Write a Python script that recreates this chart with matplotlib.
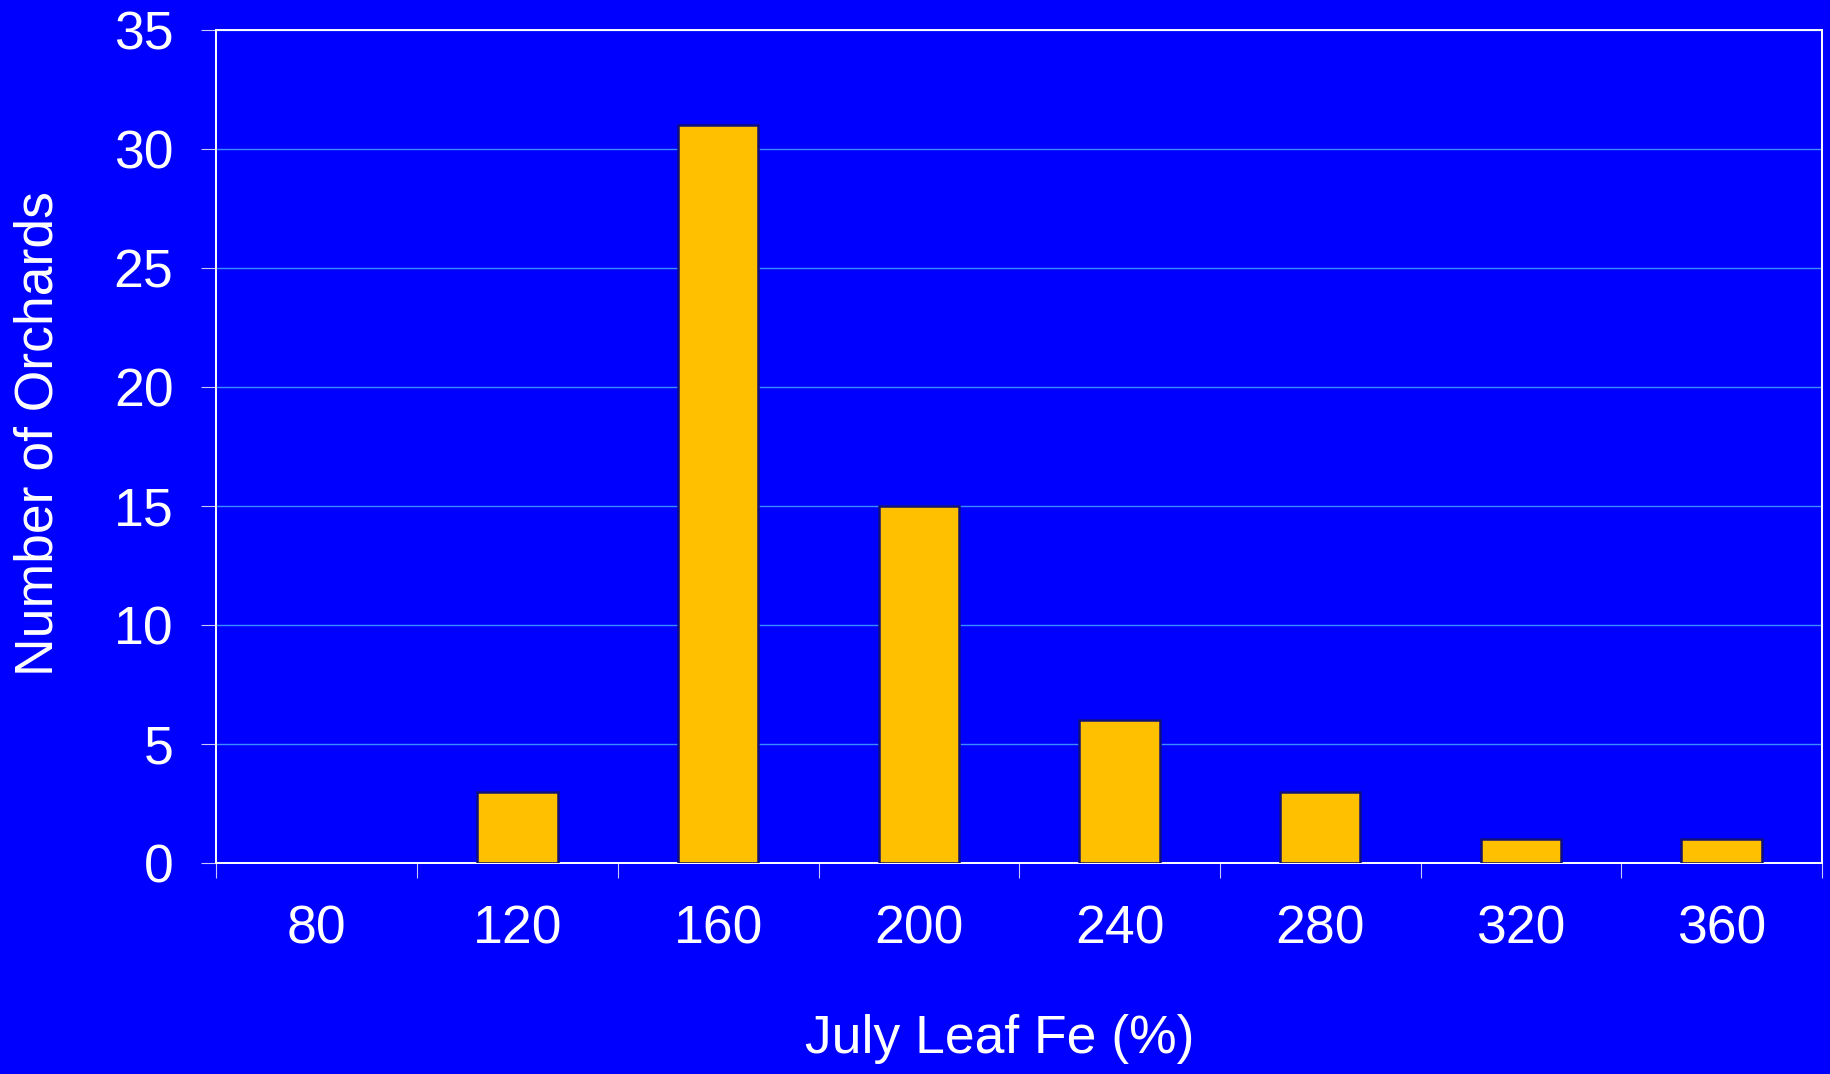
import matplotlib
matplotlib.use("Agg")
import matplotlib.pyplot as plt
import numpy as np

categories = ["80", "120", "160", "200", "240", "280", "320", "360"]
counts = [0, 3, 31, 15, 6, 3, 1, 1]
y_ticks = [0, 5, 10, 15, 20, 25, 30, 35]

plt.rcParams['font.family'] = ['Liberation Sans', 'DejaVu Sans']

BG = '#0000FF'
fig = plt.figure(figsize=(18.3, 10.74), dpi=100, facecolor=BG)
ax = fig.add_axes([0.1183, 0.1965, 0.8773, 0.7755], facecolor=BG)

x = np.arange(len(categories))
lws = [1.8 if c > 0 else 0 for c in counts]
ax.bar(x, counts, width=0.4, color='#FFC000', edgecolor='#10107A', linewidth=lws, zorder=3)

ax.set_xlim(-0.5, len(categories) - 0.5)
ax.set_ylim(0, 35)
ax.set_yticks(y_ticks)
ax.set_yticklabels([str(v) for v in y_ticks])

ax.set_xticks(np.arange(-0.5, len(categories) + 0.5, 1.0))
ax.set_xticklabels([])
ax.set_xticks(x, minor=True)
ax.set_xticklabels(categories, minor=True)

ax.tick_params(axis='x', which='major', direction='out', length=11, width=0.8, color='#C8C8FF')
ax.tick_params(axis='x', which='minor', length=0, pad=30, labelsize=38.5, labelcolor='white')
ax.tick_params(axis='y', direction='out', length=11, width=0.8, color='#C8C8FF', pad=20, labelsize=38.5, labelcolor='white')

ax.grid(axis='y', color='#3D8CFF', linewidth=1.0, zorder=0)
ax.set_axisbelow(True)

for s in ax.spines.values():
    s.set_color('white')
    s.set_linewidth(1.4)

ax.set_xlabel('July Leaf Fe (%)', fontsize=38.5, color='white', labelpad=43)
ax.set_ylabel('Number of Orchards', fontsize=38.5, color='white', labelpad=36)
ax.xaxis.label.set_x(0.488)
ax.yaxis.label.set_y(0.516)

fig.savefig('out.png', dpi=100, facecolor=BG)
